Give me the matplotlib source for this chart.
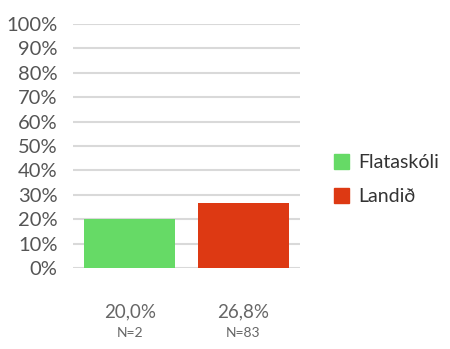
import matplotlib
matplotlib.use("Agg")
from matplotlib import pyplot as plt
from matplotlib.patches import Patch

# data
groups = ["Flataskóli", "Landið"]
values = [0.200, 0.268]
value_labels = ["20,0%", "26,8%"]
n_labels = ["N=2", "N=83"]
colors = ["#66da66", "#dd3913"]
yticks = [i / 10 for i in range(11)]
ytick_labels = [str(i * 10) + "%" for i in range(11)]

plt.rcParams['font.family'] = ['Lato', 'DejaVu Sans']

fig = plt.figure(figsize=(4.5, 3.49), dpi=100)
ax = fig.add_axes([0.162, 0.232, 0.505, 0.699])

x = range(len(groups))
ax.bar(x, values, width=0.8, color=colors, zorder=3)

ax.set_ylim(0, 1)
ax.set_xlim(-0.5, 1.5)
ax.set_yticks(yticks)
ax.set_yticklabels(ytick_labels, fontsize=14.5, color="#555555")
ax.set_xticks([])
ax.yaxis.grid(True, color="#d9d9d9", linewidth=1.5, zorder=0)
ax.tick_params(axis='y', length=0, pad=11)
for s in ax.spines.values():
	s.set_visible(False)

# labels under the bars
for i in x:
	ax.text(i, -0.18, value_labels[i], ha='center', va='center', fontsize=13.5, color="#666666", transform=ax.get_xaxis_transform())
	ax.text(i, -0.265, n_labels[i], ha='center', va='center', fontsize=10, color="#666666", transform=ax.get_xaxis_transform())

handles = [Patch(color=colors[i], label=groups[i]) for i in range(len(groups))]
fig.legend(handles=handles, loc='center left', bbox_to_anchor=(0.742, 0.486), frameon=False,
	fontsize=14, handlelength=0.8, handleheight=0.8, handletextpad=0.45, labelspacing=0.85,
	labelcolor="#333333", borderaxespad=0, borderpad=0)

fig.savefig("out.png", dpi=100)
